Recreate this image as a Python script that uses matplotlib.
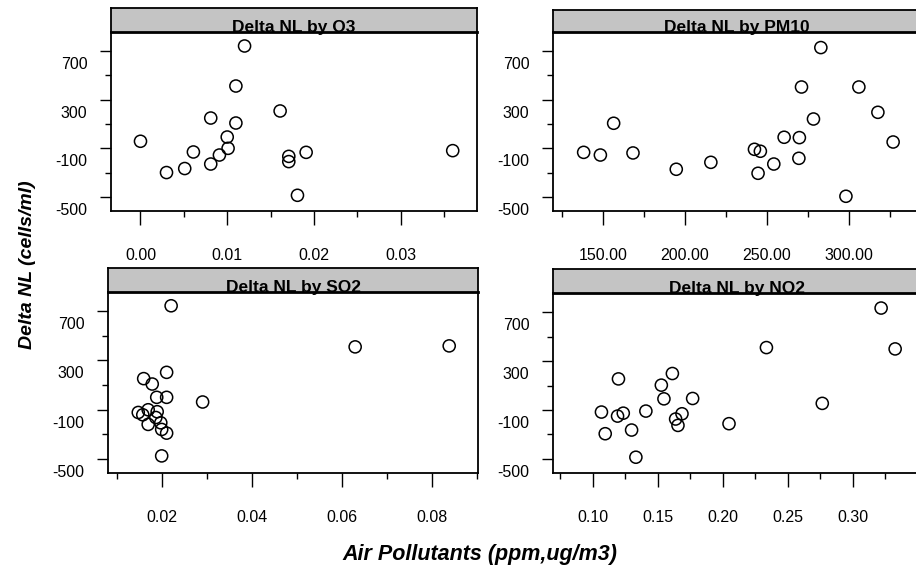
import matplotlib
matplotlib.use("Agg")
import matplotlib.pyplot as plt
from matplotlib.transforms import ScaledTranslation

plt.rcParams['font.family'] = ['Liberation Sans', 'DejaVu Sans']

# ---------------- data ----------------
o3_x = [0.0000, 0.0030, 0.0051, 0.0061, 0.0081, 0.0081, 0.0091, 0.0100, 0.0101,
        0.0110, 0.0110, 0.0120, 0.0161, 0.0171, 0.0171, 0.0191, 0.0181, 0.0360]
o3_y = [-42, -299, -266, -130, 149, -229, -155, -7, -100,
        108, 412, 741, 207, -166, -209, -133, -486, -119]

pm10_x = [138.2, 148.4, 156.5, 168.3, 194.7, 215.8, 242.4, 246.0, 244.6, 254.2,
          260.5, 269.8, 269.5, 271.1, 278.4, 282.9, 298.2, 306.1, 317.7, 327.0]
pm10_y = [-133, -155, 106, -138, -272, -215, -108, -124, -305, -229,
          -9, -12, -182, 404, 141, 728, -494, 404, 196, -48]

so2_x = [0.0221, 0.0630, 0.0839, 0.0211, 0.0160, 0.0179, 0.0189, 0.0211, 0.0291, 0.0148,
         0.0158, 0.0170, 0.0190, 0.0187, 0.0170, 0.0198, 0.0200, 0.0211, 0.0200]
so2_y = [744, 410, 418, 203, 152, 108, 0, 0, -38, -123,
         -142, -101, -117, -164, -220, -207, -261, -291, -476]

no2_x = [0.1067, 0.1096, 0.1191, 0.1235, 0.1198, 0.1299, 0.1332, 0.1409, 0.1528, 0.1548,
         0.1613, 0.1638, 0.1656, 0.1687, 0.1769, 0.2049, 0.2337, 0.2767, 0.3220, 0.3328]
no2_y = [-117, -294, -150, -126, 154, -264, -486, -109, 103, -9,
         198, -174, -226, -131, -6, -212, 410, -46, 733, 399]

titles = ["Delta NL by O3", "Delta NL by PM10", "Delta NL by SO2", "Delta NL by NO2"]
y_major = [700, 300, -100, -500]
y_minor = [500, 100, -300]
o3_ticks = [0.00, 0.01, 0.02, 0.03]
o3_labels = ["0.00", "0.01", "0.02", "0.03"]
pm10_ticks = [150, 200, 250, 300]
pm10_labels = ["150.00", "200.00", "250.00", "300.00"]
so2_ticks = [0.02, 0.04, 0.06, 0.08]
so2_labels = ["0.02", "0.04", "0.06", "0.08"]
no2_ticks = [0.10, 0.15, 0.20, 0.25, 0.30]
no2_labels = ["0.10", "0.15", "0.20", "0.25", "0.30"]

W, H = 916, 568
fig = plt.figure(figsize=(W / 100, H / 100), dpi=100)


def rect(x0, y0, x1, y1):
    return [x0 / W, 1 - y1 / H, (x1 - x0) / W, (y1 - y0) / H]


panels = [
    dict(box=(111, 32, 477, 211), htop=8, x=o3_x, y=o3_y, xlim=(-0.0034, 0.0388),
         ticks=o3_ticks, labels=o3_labels, title=titles[0]),
    dict(box=(553, 32, 921, 211), htop=10, x=pm10_x, y=pm10_y, xlim=(119.5, 344.0),
         ticks=pm10_ticks, labels=pm10_labels, title=titles[1]),
    dict(box=(108, 292, 478, 473), htop=268, x=so2_x, y=so2_y, xlim=(0.00807, 0.0903),
         ticks=so2_ticks, labels=so2_labels, title=titles[2]),
    dict(box=(553, 293, 921, 473), htop=269, x=no2_x, y=no2_y, xlim=(0.0694, 0.3527),
         ticks=no2_ticks, labels=no2_labels, title=titles[3]),
]

for p in panels:
    x0, y0, x1, y1 = p["box"]
    ax = fig.add_axes(rect(x0, y0, x1, y1))
    ax.scatter(p["x"], p["y"], s=76, facecolors="none", edgecolors="black",
               linewidths=1.1, zorder=3)
    ax.set_xlim(*p["xlim"])
    ax.set_ylim(-615, 856)
    ax.set_xticks(p["ticks"])
    ax.set_xticklabels(p["labels"])
    t = p["ticks"]
    step = t[1] - t[0]
    minors = [v + step / 2 for v in [t[0] - step] + t]
    minors = [m for m in minors if p["xlim"][0] < m < p["xlim"][1]]
    ax.set_xticks(minors, minor=True)
    ax.set_yticks(y_major)
    ax.set_yticklabels([str(v) for v in y_major])
    ax.set_yticks(y_minor, minor=True)
    ax.tick_params(axis="both", which="major", direction="out", length=8,
                   width=1.0, labelsize=11.5, colors="black")
    ax.tick_params(axis="x", which="major", length=10, pad=17)
    ax.tick_params(axis="y", which="major", pad=9)
    ax.tick_params(axis="both", which="minor", direction="out", length=4, width=1.0)
    for lab in ax.get_yticklabels():
        lab.set_transform(lab.get_transform() +
                          ScaledTranslation(0, -12 / 100, fig.dpi_scale_trans))
    for sp in ax.spines.values():
        sp.set_linewidth(1.3)
        sp.set_color("black")

    # header strip
    hx = fig.add_axes(rect(x0, p["htop"], x1, y0))
    hx.set_facecolor("#c4c4c4")
    hx.set_xticks([])
    hx.set_yticks([])
    for sp in hx.spines.values():
        sp.set_linewidth(1.3)
    hx.spines["bottom"].set_linewidth(2.0)
    hx.text(0.5, 0.0, p["title"], transform=hx.transAxes, ha="center",
            va="baseline", fontsize=12.5, fontweight="bold", zorder=5)

fig.text(342 / W, 1 - 560 / H, "Air Pollutants (ppm,ug/m3)", ha="left",
         va="baseline", fontsize=15.5, fontweight="bold", fontstyle="italic")
fig.text(28 / W, 1 - 265 / H, "Delta NL (cells/ml)", ha="center", va="center",
         rotation=90, fontsize=14, fontweight="bold", fontstyle="italic")

fig.savefig("out.png", dpi=100)
